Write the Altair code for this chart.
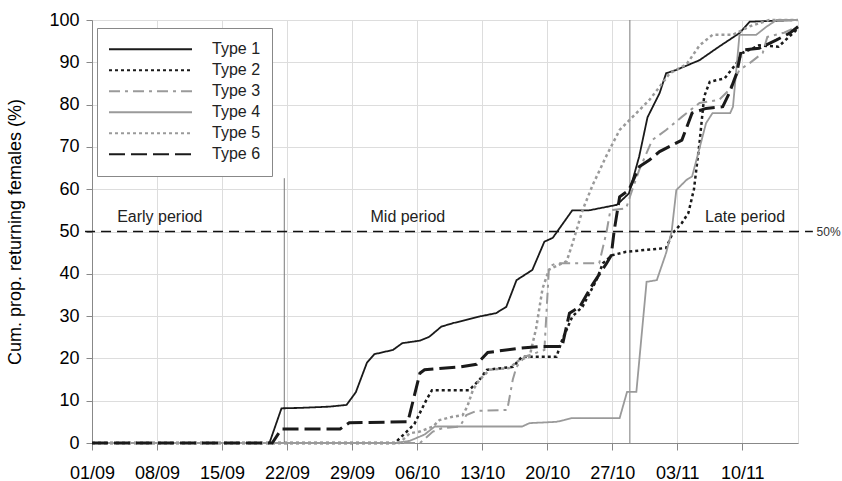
import json
import altair as alt
import pandas as pd

# ---------------- data ----------------
types = ["Type 1", "Type 2", "Type 3", "Type 4", "Type 5", "Type 6"]

# day index counted from 01/09 (0) ; value = cumulative % returning females
t1_day = [0, 19.1, 20.4, 22.4, 25.6, 27.4, 28.4, 29.6, 30.4, 32.4, 33.4, 35.3, 36.3, 37.6, 38.8,
          41.7, 43.5, 44.6, 45.7, 47.4, 48.7, 49.6, 51.7, 53.5, 56.5, 57.8, 58.9, 59.8, 61.1,
          61.8, 62.9, 65.4, 67.5, 69.7, 70.8, 76]
t1_val = [0, 0, 8.2, 8.3, 8.6, 9.0, 12.0, 19.0, 21.0, 22.0, 23.6, 24.2, 25.1, 27.5, 28.3,
          29.9, 30.7, 32.2, 38.5, 40.9, 47.6, 48.5, 55.0, 55.0, 56.3, 59.0, 67.7, 77.0, 82.7,
          87.4, 88.2, 90.5, 93.7, 96.9, 99.6, 100]

t2_day = [0, 32.6, 33.7, 34.7, 36.0, 36.6, 40.6, 41.7, 42.5, 45.3, 46.3, 50.0, 50.6, 51.7,
          52.8, 54.3, 55.0, 56.0, 57.5, 61.8, 62.5, 63.5, 64.2, 64.8, 65.4, 65.9, 66.5, 68.1,
          69.4, 70.0, 71.8, 73.9, 76]
t2_val = [0, 0, 2.3, 4.5, 10.2, 12.5, 12.5, 14.9, 17.3, 18.0, 20.4, 20.4, 24.3, 29.9,
          32.2, 38.5, 42.5, 44.4, 45.2, 46.1, 49.6, 52.0, 54.4, 60.0, 71.0, 81.9, 85.4, 86.2,
          89.8, 92.2, 94.0, 93.7, 98.0]

t3_day = [0, 35.3, 36.7, 37.7, 39.6, 40.3, 41.4, 44.7, 45.3, 45.7, 46.6, 48.7, 49.2, 50.0,
          54.6, 55.4, 55.8, 57.5, 58.1, 58.9, 60.3, 61.8, 63.5, 65.4, 67.5, 68.6, 69.7, 70.8,
          72.2, 72.7, 74.5, 76]
t3_val = [0, 0, 2.7, 3.5, 3.9, 6.6, 7.6, 7.8, 15.0, 18.0, 20.4, 22.0, 41.7, 42.5,
          42.5, 50.0, 55.0, 55.5, 59.5, 64.5, 71.6, 74.0, 77.1, 80.4, 81.1, 83.5, 88.2, 89.8,
          92.2, 96.0, 97.0, 98.5]

t4_day = [0, 32.6, 34.2, 35.8, 36.9, 46.3, 47.1, 50.0, 51.7, 56.8, 57.6, 58.6, 59.7, 60.8,
          61.8, 62.4, 62.9, 64.0, 64.6, 66.1, 66.8, 68.7, 69.0, 69.7, 71.5, 72.6, 73.7, 76]
t4_val = [0, 0, 0.5, 2.0, 3.9, 3.9, 4.7, 5.0, 5.9, 5.9, 12.1, 12.1, 38.1, 38.5,
          44.9, 50.0, 59.8, 62.2, 63.0, 75.6, 78.0, 78.0, 79.5, 96.5, 96.5, 98.4, 100, 100]

t5_day = [0, 33.1, 34.2, 35.3, 36.7, 37.4, 38.8, 39.9, 40.4, 41.0, 41.7, 42.8, 44.9, 46.0,
          47.1, 47.8, 48.5, 49.2, 51.1, 51.7, 52.8, 53.9, 55.4, 56.8, 58.2, 60.0, 61.1, 62.2,
          64.0, 65.4, 66.8, 69.0, 70.8, 72.9, 76]
t5_val = [0, 0, 2.3, 2.7, 3.9, 5.4, 6.2, 6.6, 8.6, 12.5, 14.9, 17.3, 17.7, 19.6,
          20.4, 27.0, 36.5, 41.0, 43.0, 47.0, 55.0, 61.0, 68.0, 74.0, 77.1, 81.1, 84.2, 87.4,
          89.5, 94.0, 96.5, 96.5, 98.5, 100, 100]

t6_day = [0, 19.4, 20.4, 26.7, 27.7, 34.0, 35.3, 35.8, 39.6, 41.4, 42.6, 46.0, 48.2, 50.6,
          51.4, 52.5, 53.9, 55.4, 55.9, 56.2, 56.8, 57.8, 58.9, 60.0, 61.1, 63.5, 64.6, 66.1,
          67.9, 68.6, 69.4, 69.9, 71.8, 73.7, 75.1, 76]
t6_val = [0, 0, 3.3, 3.3, 4.8, 5.0, 16.5, 17.3, 18.0, 18.6, 21.4, 22.4, 22.8, 22.8,
          30.7, 32.2, 37.5, 42.5, 44.4, 50.0, 58.2, 59.8, 65.3, 66.9, 68.9, 71.6, 78.0, 79.1,
          79.5, 82.7, 87.4, 92.9, 93.3, 95.3, 96.9, 98.4]

x_tick_days = [0, 7, 14, 21, 28, 35, 42, 49, 56, 63, 70]
x_tick_labels = ["01/09", "08/09", "15/09", "22/09", "29/09", "06/10",
                 "13/10", "20/10", "27/10", "03/11", "10/11"]
y_ticks = [0, 10, 20, 30, 40, 50, 60, 70, 80, 90, 100]

period_names = ["Early period", "Mid period", "Late period"]
period_days = [7.3, 34.0, 70.3]
period_level = 53.5

divider_days = [20.7, 57.9]
divider_tops = [62.6, 100]

fifty_level = 50
fifty_from_day = -0.75
fifty_to_day = 77.6
fifty_label_day = 78.0

# ---------------- styles ----------------
colors = ["#1a1a1a", "#1a1a1a", "#9a9a9a", "#9a9a9a", "#9a9a9a", "#1a1a1a"]
dashes = [[1, 0], [3, 3], [11, 5, 3, 5], [1, 0], [3, 3], [16, 6]]
widths = [1.8, 2.5, 2.0, 1.8, 2.5, 3.0]
FONT = "Liberation Sans"

series = [(t1_day, t1_val), (t2_day, t2_val), (t3_day, t3_val),
          (t4_day, t4_val), (t5_day, t5_val), (t6_day, t6_val)]
rows = []
for name, w, (ds, vs) in zip(types, widths, series):
    for d, v in zip(ds, vs):
        rows.append({"type": name, "day": d, "value": v, "w": w})
df = pd.DataFrame(rows)

X_DOMAIN = [0, 76]
xscale = alt.Scale(domain=X_DOMAIN, nice=False, zero=False)
yscale = alt.Scale(domain=[0, 100], nice=False)

label_expr = json.dumps(x_tick_labels) + "[round(datum.value / 7)]"

leg = alt.Legend(
    title=None, orient="none", legendX=5, legendY=8,
    symbolType="stroke", symbolSize=6889, symbolStrokeWidth=2,
    labelFontSize=16, labelFont=FONT, labelColor="#222", labelOffset=19,
    padding=11, clipHeight=20.5, rowPadding=0,
    strokeColor="#888", fillColor="white",
)

xaxis = alt.Axis(values=x_tick_days, labelExpr=label_expr, title=None, tickSize=7,
                 labelPadding=14, labelFontSize=18, labelFlush=False)
yaxis = alt.Axis(values=y_ticks, title="Cum. prop. returning females (%)", tickSize=6,
                 labelPadding=7, labelFontSize=18, titleFontSize=18, titleFontWeight="normal",
                 titlePadding=24)

lines = alt.Chart(df).mark_line(strokeCap="butt", strokeJoin="miter").encode(
    x=alt.X("day:Q", scale=xscale, axis=xaxis),
    y=alt.Y("value:Q", scale=yscale, axis=yaxis),
    color=alt.Color("type:N", scale=alt.Scale(domain=types, range=colors), legend=leg),
    strokeDash=alt.StrokeDash("type:N", scale=alt.Scale(domain=types, range=dashes), legend=leg),
    strokeWidth=alt.StrokeWidth("w:Q", scale=None, legend=None),
)

div_df = pd.DataFrame({"day": divider_days, "top": divider_tops, "bottom": [0, 0]})
dividers = alt.Chart(div_df).mark_rule(color="#7a7a7a", strokeWidth=1).encode(
    x=alt.X("day:Q", scale=xscale),
    y=alt.Y("bottom:Q", scale=yscale),
    y2="top:Q",
)

fifty_df = pd.DataFrame({"x": [fifty_from_day], "x2": [fifty_to_day], "y": [fifty_level]})
fifty = alt.Chart(fifty_df).mark_rule(color="#111", strokeWidth=1.5, strokeDash=[10, 6], clip=False).encode(
    x=alt.X("x:Q", scale=xscale), x2="x2:Q", y=alt.Y("y:Q", scale=yscale)
)

fifty_lab_df = pd.DataFrame({"x": [fifty_label_day], "y": [fifty_level], "t": ["50%"]})
fifty_lab = alt.Chart(fifty_lab_df).mark_text(align="left", baseline="middle", fontSize=12,
                                              font=FONT, color="#333", clip=False).encode(
    x=alt.X("x:Q", scale=xscale), y=alt.Y("y:Q", scale=yscale), text="t:N"
)

per_df = pd.DataFrame({"day": period_days, "y": [period_level] * 3, "t": period_names})
periods = alt.Chart(per_df).mark_text(align="center", baseline="middle", fontSize=16,
                                      font=FONT, color="#222").encode(
    x=alt.X("day:Q", scale=xscale), y=alt.Y("y:Q", scale=yscale), text="t:N"
)

chart = alt.layer(dividers, fifty, fifty_lab, periods, lines).properties(
    width=706, height=423,
    padding={"left": 92, "top": 20, "right": 44, "bottom": 38},
    autosize=alt.AutoSizeParams(type="none"),
).configure_view(stroke="#888", strokeWidth=1).configure_axis(
    grid=False, domainColor="#333", tickColor="#333", labelColor="#222", titleColor="#222",
    labelFont=FONT, titleFont=FONT,
).configure(background="white")

chart.save("out.html", embed_options={"renderer": "svg", "actions": False})
